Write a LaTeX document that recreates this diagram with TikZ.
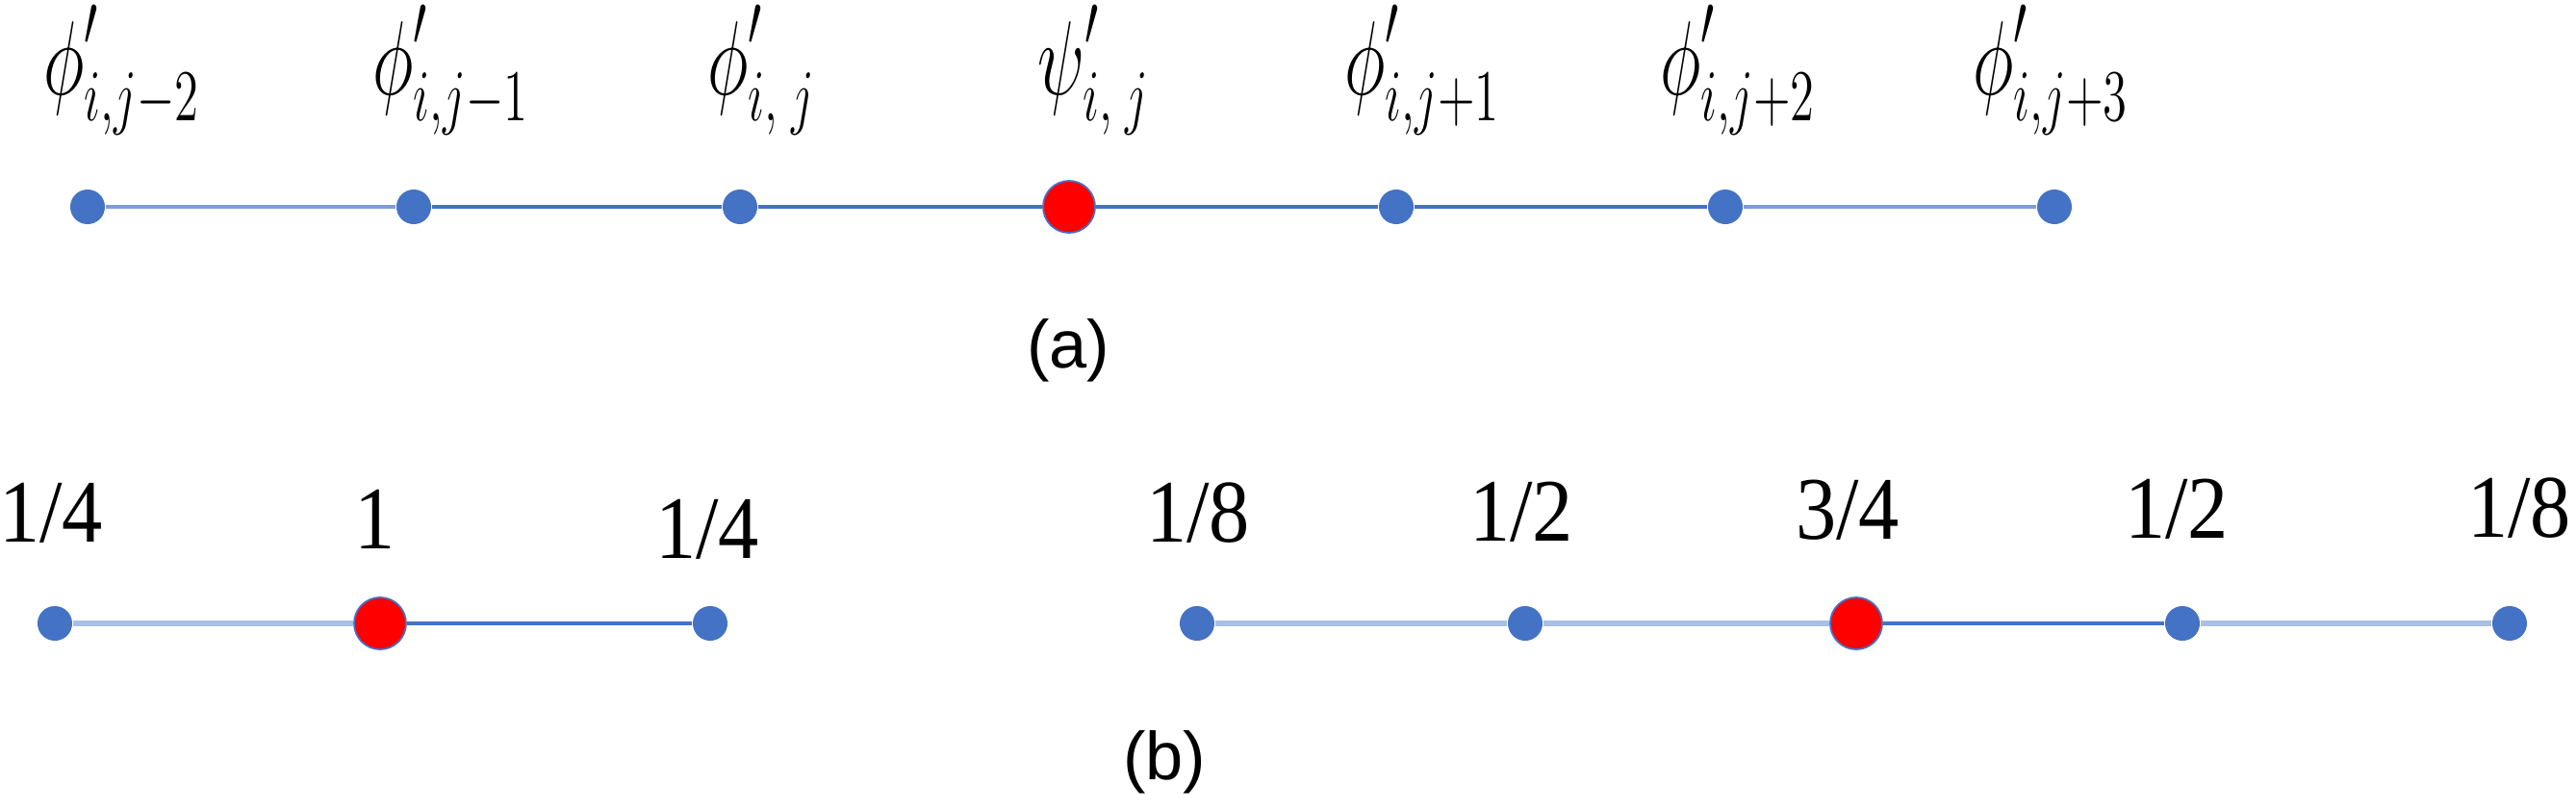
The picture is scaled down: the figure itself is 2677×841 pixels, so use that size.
\documentclass[tikz,border=0pt]{standalone}
\usepackage[no-math]{fontspec}
\setmainfont{Liberation Serif}
\newfontfamily\labsans{Liberation Sans}
\definecolor{dotblue}{HTML}{4472C4}
\definecolor{lightblue}{HTML}{A9BFE4}
\definecolor{midblue}{HTML}{7E9DD6}
\newcommand{\vstr}[1]{\scalebox{1}[1.5]{#1}}
\newcommand{\vstrb}[1]{\scalebox{1}[1.1]{#1}}
\newcommand{\bigpr}{\raisebox{0.1em}[0.45em][0pt]{$\scriptstyle\prime$}}
\begin{document}
\begin{tikzpicture}[x=0.01cm,y=-0.01cm,
  bdot/.style={circle,fill=dotblue,inner sep=0pt,minimum size=0.36cm},
  rdot/.style={circle,fill=red,draw=dotblue,line width=0.5pt,inner sep=0pt,minimum size=0.54cm},
  darkline/.style={draw=dotblue,line width=1.1pt},
  lightline/.style={draw=lightblue,line width=1.6pt},
  midline/.style={draw=midblue,line width=1.4pt},
  toplab/.style={anchor=base west,inner sep=0pt,font=\fontsize{20.5}{24}\selectfont},
  numlab/.style={inner sep=0pt,font=\fontsize{24}{28}\selectfont},
  caplab/.style={inner sep=0pt,font=\labsans\fontsize{20}{24}\selectfont}]
\useasboundingbox[fill=white] (0,0) rectangle (2677,841);
% (a) row
\node[bdot] (t0) at (91,215) {};
\node[bdot] (t1) at (430,215) {};
\node[bdot] (t2) at (769,215) {};
\node[rdot] (t3) at (1111,215) {};
\node[bdot] (t4) at (1451,215) {};
\node[bdot] (t5) at (1793,215) {};
\node[bdot] (t6) at (2135,215) {};
\draw[midline] (t0) -- (t1);
\draw[darkline] (t1) -- (t2);
\draw[darkline] (t2) -- (t3);
\draw[darkline] (t3) -- (t4);
\draw[darkline] (t4) -- (t5);
\draw[midline] (t5) -- (t6);
\node[toplab] (l0) at (45,98) {\vstr{$\phi^{\bigpr}_{i,j-2}$}};
\node[toplab] (l1) at (387,98) {\vstr{$\phi^{\bigpr}_{i,j-1}$}};
\node[toplab] (l2) at (735,98) {\vstr{$\phi^{\bigpr}_{i,\;j}$}};
\node[toplab] (l3) at (1078,98) {\vstr{$\psi^{\bigpr}_{i,\;j}$}};
\node[toplab] (l4) at (1397,98) {\vstr{$\phi^{\bigpr}_{i,j+1}$}};
\node[toplab] (l5) at (1725,98) {\vstr{$\phi^{\bigpr}_{i,j+2}$}};
\node[toplab] (l6) at (2050,98) {\vstr{$\phi^{\bigpr}_{i,j+3}$}};
\node[caplab] (capa) at (1110,364) {(a)};
% (b) left group
\node[bdot] (b0) at (57,648) {};
\node[rdot] (b1) at (395,648) {};
\node[bdot] (b2) at (738,648) {};
\draw[lightline] (b0) -- (b1);
\draw[darkline] (b1) -- (b2);
\node[numlab] (n0) at (53,533) {\vstrb{1/4}};
\node[numlab] (n1) at (390,540) {\vstrb{1}};
\node[numlab] (n2) at (735,550) {\vstrb{1/4}};
% (b) right group
\node[bdot] (c0) at (1244,648) {};
\node[bdot] (c1) at (1585,648) {};
\node[rdot] (c2) at (1929,648) {};
\node[bdot] (c3) at (2268,648) {};
\node[bdot] (c4) at (2608,648) {};
\draw[lightline] (c0) -- (c1);
\draw[lightline] (c1) -- (c2);
\draw[darkline] (c2) -- (c3);
\draw[lightline] (c3) -- (c4);
\node[numlab] (m0) at (1245,533) {\vstrb{1/8}};
\node[numlab] (m1) at (1581,532) {\vstrb{1/2}};
\node[numlab] (m2) at (1920,530) {\vstrb{3/4}};
\node[numlab] (m3) at (2262,529) {\vstrb{1/2}};
\node[numlab] (m4) at (2618,528) {\vstrb{1/8}};
\node[caplab] (capb) at (1210,792) {(b)};
\end{tikzpicture}
\end{document}
